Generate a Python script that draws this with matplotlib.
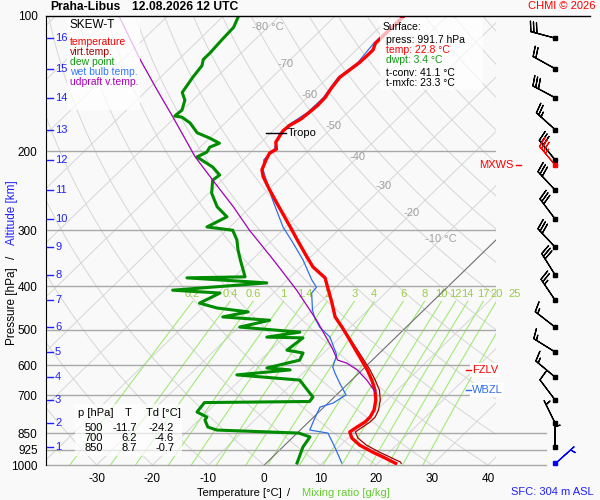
import numpy as np
import matplotlib
matplotlib.use('Agg')
import matplotlib.pyplot as plt
import matplotlib.transforms as mtransforms
from matplotlib.patches import Rectangle
from matplotlib.ticker import NullLocator

plt.rcParams['font.family'] = ['Liberation Sans', 'DejaVu Sans']

# ---- sounding values (pressure hPa, temperature degC) ----
temp_p = [100, 115, 119, 122, 127, 132, 137, 145, 152, 158, 164, 170, 175, 180, 183,
          191, 198, 202, 209, 220, 228, 244, 261, 275, 295, 315, 344, 362, 383, 402,
          436, 468, 493, 527, 575, 614, 647, 681, 717, 754, 782, 802, 823, 844, 871,
          903, 936, 960, 985, 991.7]
temp_t = [-57.7, -57.8, -57.0, -57.0, -57.1, -57.5, -57.9, -57.4, -56.8, -56.7, -56.9,
          -57.2, -58.0, -58.2, -58.0, -57.4, -56.0, -56.5, -55.9, -54.8, -53.3, -49.7,
          -46.0, -43.1, -39.2, -35.6, -30.7, -27.8, -23.6, -21.4, -17.7, -14.6, -11.5,
          -7.7, -2.8, 0.9, 3.6, 6.0, 8.0, 9.5, 10.1, 10.1, 9.6, 9.2, 10.7, 13.4, 17.0,
          19.8, 22.5, 23.2]

virt_p = [402, 436, 468, 493, 527, 575, 614, 647, 681, 717, 754, 782, 802, 823, 844,
          871, 903, 936, 960, 985, 991.7]
virt_t = [-21.4, -17.7, -14.5, -11.4, -7.5, -2.4, 1.4, 4.2, 6.8, 8.8, 10.3, 11.0, 11.0,
          10.6, 10.2, 11.8, 14.6, 18.2, 21.0, 23.8, 24.2]

dew_p = [100, 106, 113, 121, 125, 129, 137, 148, 154, 162, 167, 168, 173, 182, 187,
         192, 196, 201, 206, 217, 226, 232, 248, 266, 280, 295, 300, 315, 332, 349,
         381, 383, 393, 408, 414, 436, 447, 456, 468, 476, 493, 506, 519, 521, 555,
         563, 584, 608, 614, 630, 647, 706, 722, 726, 762, 782, 794, 823, 836, 849,
         866, 912, 990]
dew_t = [-87.3, -86.1, -85.9, -85.6, -85.6, -84.7, -84.2, -83.3, -81.4, -80.1, -80.3,
         -78.8, -76.3, -73.2, -70.0, -67.3, -68.3, -67.9, -68.8, -64.1, -61.4, -61.7,
         -59.5, -56.0, -52.4, -54.1, -48.9, -46.4, -44.3, -42.1, -38.1, -48.3, -33.1,
         -48.6, -39.6, -41.4, -37.4, -31.1, -34.7, -25.7, -29.8, -18.1, -23.1, -16.5,
         -17.1, -13.7, -13.0, -17.4, -12.9, -21.5, -9.3, -3.8, -3.6, -22.2, -21.8,
         -19.1, -18.9, -17.1, -14.9, 0.3, 3.0, 3.6, 5.5]

wetb_p = [100, 115, 127, 137, 152, 164, 175, 183, 198, 209, 220, 257, 295, 320, 349,
          387, 402, 414, 452, 471, 493, 519, 569, 605, 624, 657, 698, 728, 743, 794,
          836, 849, 912, 990]
wetb_t = [-58.0, -58.1, -57.4, -58.2, -57.1, -57.2, -58.3, -58.3, -56.4, -56.3, -54.6,
          -47.3, -40.5, -35.8, -30.9, -25.6, -23.4, -23.2, -19.9, -18.0, -15.5, -11.8,
          -7.3, -5.8, -4.3, -1.6, 1.7, 0.9, -0.7, 0.6, 1.7, 5.5, 9.3, 13.5]

updr_p = [100, 125, 146, 168, 206, 232, 266, 300, 349, 408, 476, 549, 584, 593, 614,
          647, 690]
updr_t = [-108.7, -96.9, -88.3, -80.4, -69.1, -61.7, -53.1, -45.9, -36.2, -26.4,
          -17.3, -9.4, -6.2, -4.0, -0.9, 2.7, 6.6]

# altitude scale (km) and the pressure it sits at
alt_km = list(range(1, 17))
alt_p = [912, 806, 716, 637, 560, 493, 429, 377, 327, 283, 244, 209, 179, 152, 131, 112]

# winds at each km (direction deg, speed kt)
wind_p = [912, 806, 716, 637, 560, 493, 429, 377, 327, 283, 244, 209, 179, 152, 131, 112]
wind_dir = [360, 334, 323, 310, 302, 308, 326, 328, 317, 323, 317, 321, 312, 298, 299, 285]
wind_spd = [5, 5, 10, 15, 15, 15, 25, 30, 30, 30, 30, 30, 25, 30, 20, 30]
sfc_p, sfc_dir, sfc_spd = 991.7, 48, 5
mxws_p, mxws_dir, mxws_spd = 215, 320, 35

p_levels = [100, 200, 300, 400, 500, 600, 700, 850, 925, 1000]
t_ticks = [-30, -20, -10, 0, 10, 20, 30, 40]
iso_labels = [-80, -70, -60, -50, -40, -30, -20, -10]
iso_label_p = [106, 128, 150, 176, 206, 239, 275, 314]
mix_ratios = [0.2, 0.4, 0.6, 1, 1.4, 2, 3, 4, 6, 8, 10, 12, 14, 17, 20, 25]

table_rows = [('500', '-11.7', '-24.2'), ('700', '6.2', '-4.6'), ('850', '8.7', '-0.7')]

# ---- drawing ----
W, H = 600, 500
SKEW = 82.7
BLUE = '#2020ff'
RED = '#ff0000'
GREEN = '#008c00'
LGREEN = '#a2ea78'


def skew_x(t, p):
    return np.asarray(t, float) + SKEW * np.log10(1000.0 / np.asarray(p, float))


def fxy(x, y):
    return x / W, 1 - y / H


fig = plt.figure(figsize=(6, 5), dpi=100, facecolor='#f9f9f9')
ax = fig.add_axes([46 / W, 35 / H, 450 / W, 449 / H])
ax.set_facecolor('#f9f9f9')
ax.set_yscale('log')
ax.set_ylim(1000, 100)
ax.set_xlim(-39.05, 41.45)
blend = mtransforms.blended_transform_factory(ax.transAxes, ax.transData)

pp = np.logspace(3, 2, 200)
for t0 in range(-140, 50, 10):
    if t0 == 0:
        continue
    ax.plot(skew_x(t0, pp), pp, color='#d6d6d6', lw=0.7, zorder=1)
ax.plot(skew_x(0, pp), pp, color='#6e6e6e', lw=0.8, zorder=2)

for th in range(-40, 260, 10):
    tt = (th + 273.15) * (pp / 1000.0) ** 0.2857 - 273.15
    ax.plot(skew_x(tt, pp), pp, color='#d6d6d6', lw=0.7, zorder=1)

pm = np.logspace(3, np.log10(432), 60)
for w in mix_ratios:
    e = w * pm / (622.0 + w)
    le = np.log(e / 6.112)
    td = 243.5 * le / (17.67 - le)
    ax.plot(skew_x(td, pm), pm, color=LGREEN, lw=0.8, zorder=1)
    e0 = w * 432 / (622.0 + w)
    l0 = np.log(e0 / 6.112)
    x0 = skew_x(243.5 * l0 / (17.67 - l0), 432)
    ax.text(x0, 416, f'{w:g}', color='#99cc44', fontsize=8, ha='center', va='center',
            zorder=1, clip_on=False)

for p in [200, 300, 400, 500, 600, 700]:
    ax.axhline(p, color='#a8a8a8', lw=1, zorder=2)
for p in [850, 925, 1000]:
    ax.plot([0, 500 / 450], [p, p], transform=blend, color='#a8a8a8', lw=1,
            zorder=2, clip_on=False)

for t, p in zip(iso_labels, iso_label_p):
    lab = f'{t} °C' if t in (-80, -10) else f'{t}'
    ax.text(skew_x(t, p), p, lab, color='#a0a0a0', fontsize=8, ha='center',
            va='center', zorder=2)

# profiles
ax.plot(skew_x(dew_t, dew_p), dew_p, color=GREEN, lw=2.2, zorder=5)
ax.plot(skew_x(wetb_t, wetb_p), wetb_p, color='#2f6fe8', lw=0.9, zorder=5)
ax.plot(skew_x(virt_t, virt_p), virt_p, color='#a00000', lw=0.9, zorder=6)
ax.plot(skew_x(temp_t, temp_p), temp_p, color=RED, lw=2.4, zorder=7)
ax.plot(skew_x(updr_t, updr_p), updr_p, color='#a000b4', lw=0.9, zorder=8)

# tropopause mark
trop_p = 182
ax.plot([(266 - 46) / 450, (286 - 46) / 450], [trop_p, trop_p], transform=blend,
        color='black', lw=1, zorder=9)
ax.text((288 - 46) / 450, trop_p, 'Tropo', transform=blend, fontsize=8,
        va='center', ha='left', zorder=9)

# altitude scale
for km, p in zip(alt_km, alt_p):
    ax.plot([1 / 450, 7 / 450], [p, p], transform=blend, color=BLUE, lw=1, zorder=9)
    ax.text(9 / 450, p, str(km), transform=blend, color=BLUE, fontsize=8,
            va='center', ha='left', zorder=9)

# axes styling
ax.set_yticks(p_levels)
ax.set_yticklabels([str(p) for p in p_levels], fontsize=8.5)
ax.yaxis.set_minor_locator(NullLocator())
ax.set_xticks(t_ticks)
ax.set_xticklabels([str(t) for t in t_ticks], fontsize=8.5)
ax.tick_params(axis='both', length=0)
ax.tick_params(axis='y', pad=6)
ax.tick_params(axis='x', pad=6)
for s in ['top', 'right', 'bottom']:
    ax.spines[s].set_visible(False)
ax.spines['left'].set_color('black')

# top border line reaching over the wind column
fig.add_artist(plt.Line2D([46 / W, 590 / W], [1 - 16 / H, 1 - 16 / H], color='black', lw=1))

# wind barbs
bx = (555 - 46) / 450
rad = np.deg2rad(wind_dir)
u = -np.array(wind_spd) * np.sin(rad)
v = -np.array(wind_spd) * np.cos(rad)
ax.barbs(np.full(len(wind_p), bx), wind_p, u, v, transform=blend, length=6,
         color='black', lw=0.9, clip_on=False, zorder=9)
ax.plot(np.full(len(wind_p), bx), wind_p, 's', ms=2.5, color='black', transform=blend,
        clip_on=False, zorder=10)
mr = np.deg2rad(mxws_dir)
ax.barbs([bx], [mxws_p], [-mxws_spd * np.sin(mr)], [-mxws_spd * np.cos(mr)],
         transform=blend, length=6, color=RED, lw=0.8, clip_on=False, zorder=9)
ax.plot([bx], [mxws_p], 's', ms=2.5, color=RED, transform=blend, clip_on=False, zorder=10)
sr = np.deg2rad(sfc_dir)
ax.barbs([bx], [sfc_p], [-sfc_spd * np.sin(sr)], [-sfc_spd * np.cos(sr)],
         transform=blend, length=6, color='#0000ff', lw=0.9, clip_on=False, zorder=9)
ax.plot([bx], [sfc_p], 's', ms=2.5, color='#0000ff', transform=blend, clip_on=False, zorder=10)

# level markers
ax.text((513 - 46) / 450, mxws_p, 'MXWS', transform=blend, color=RED, fontsize=8,
        ha='right', va='center', clip_on=False)
ax.plot([(516 - 46) / 450, (521 - 46) / 450], [mxws_p, mxws_p], transform=blend,
        color=RED, lw=1, clip_on=False)
fzlv_p, wbzl_p = 614, 681
for lp, name, col in [(fzlv_p, 'FZLV', RED), (wbzl_p, 'WBZL', '#2f6fe8')]:
    ax.text((472 - 46) / 450, lp, name, transform=blend, color=col, fontsize=8,
            ha='left', va='center', clip_on=False, zorder=11,
            bbox=dict(facecolor='white', edgecolor='none', pad=1.2))
    ax.plot([(466 - 46) / 450, (471 - 46) / 450], [lp, lp], transform=blend,
            color=col, lw=1, clip_on=False, zorder=11)

# boxes
fig.add_artist(Rectangle(fxy(67, 110), 73 / W, 93 / H, transform=fig.transFigure,
                         facecolor='white', edgecolor='none', alpha=0.75, zorder=1))
fig.add_artist(Rectangle(fxy(380, 90), 103 / W, 72 / H, transform=fig.transFigure,
                         facecolor='white', edgecolor='none', alpha=0.7, zorder=1))
fig.add_artist(Rectangle(fxy(75, 456), 107 / W, 52 / H, transform=fig.transFigure,
                         facecolor='white', edgecolor='none', alpha=0.7, zorder=1))

legend_items = [('SKEW-T', 'black', 25), ('temperature', RED, 42), ('virt.temp.', '#a00000', 52),
                ('dew point', '#119911', 62), ('wet bulb temp.', '#3377ff', 72),
                ('udpraft v.temp.', '#aa00bb', 82)]
for txt, col, y in legend_items:
    fs = 8.5 if txt == 'SKEW-T' else 7.5
    fig.text(*fxy(70, y), txt, color=col, fontsize=fs, va='center', ha='left')

sfc_items = [('Surface:', 'black', 383, 27), ('press: 991.7 hPa', 'black', 386, 40),
             ('temp: 22.8 °C', RED, 386, 50), ('dwpt: 3.4 °C', '#119911', 386, 60),
             ('t-conv: 41.1 °C', 'black', 386, 73), ('t-mxfc: 23.3 °C', 'black', 386, 83)]
for txt, col, x, y in sfc_items:
    fig.text(*fxy(x, y), txt, color=col, fontsize=7.5, va='center', ha='left')

fig.text(*fxy(78, 413), 'p [hPa]', fontsize=8, va='center', ha='left')
fig.text(*fxy(128, 413), 'T', fontsize=8, va='center', ha='center')
fig.text(*fxy(146, 413), 'Td [°C]', fontsize=8, va='center', ha='left')
for i, (pv, tv, dv) in enumerate(table_rows):
    y = 428 + 10 * i
    fig.text(*fxy(103, y), pv, fontsize=8, va='center', ha='right')
    fig.text(*fxy(137, y), tv, fontsize=8, va='center', ha='right')
    fig.text(*fxy(174, y), dv, fontsize=8, va='center', ha='right')

# titles and axis captions
fig.text(*fxy(50, 7), 'Praha-Libus', fontsize=8.7, fontweight='bold', va='center', ha='left')
fig.text(*fxy(132, 7), '12.08.2026 12 UTC', fontsize=8.7, fontweight='bold', va='center', ha='left')
fig.text(*fxy(596, 6), 'CHMI © 2026', fontsize=8, color=RED, va='center', ha='right')
fig.text(*fxy(197, 493), 'Temperature [°C]', fontsize=8, va='center', ha='left')
fig.text(*fxy(289, 493), '/', fontsize=8, va='center', ha='center')
fig.text(*fxy(302, 493), 'Mixing ratio [g/kg]', fontsize=8, color='#66cc33', va='center', ha='left')
fig.text(*fxy(594, 492), 'SFC: 304 m ASL', fontsize=8, color=BLUE, va='center', ha='right')
fig.text(*fxy(12, 306), 'Pressure [hPa]', fontsize=8.5, rotation=90, va='center', ha='center')
fig.text(*fxy(12, 257), '/', fontsize=8.5, rotation=90, va='center', ha='center')
fig.text(*fxy(12, 213), 'Altitude [km]', fontsize=8.5, rotation=90, color=BLUE, va='center', ha='center')

fig.savefig('out.png', dpi=100, facecolor=fig.get_facecolor())
